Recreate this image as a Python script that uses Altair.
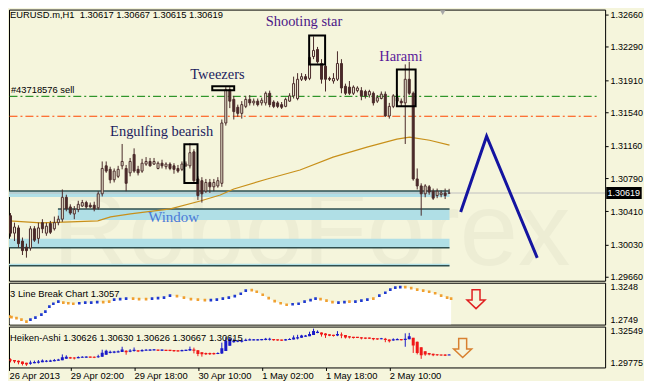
import altair as alt
import pandas as pd

# ---------------- data ----------------
opens = [1.3041,1.3036,1.3016,1.3022,1.3007,1.3000,1.2999,1.3021,1.3010,1.3028,
         1.3016,1.3027,1.3021,1.3028,1.3032,1.3057,1.3046,1.3038,1.3043,1.3047,
         1.3051,1.3048,1.3048,1.3045,1.3061,1.3093,1.3089,1.3077,1.3081,1.3093,
         1.3090,1.3085,1.3106,1.3089,1.3087,1.3095,1.3098,1.3095,1.3090,1.3096,
         1.3092,1.3095,1.3093,1.3090,1.3089,1.3093,1.3093,1.3109,1.3078,1.3076,
         1.3064,1.3074,1.3069,1.3070,1.3073,1.3142,1.3180,1.3169,1.3160,1.3153,
         1.3161,1.3169,1.3165,1.3167,1.3165,1.3165,1.3176,1.3166,1.3165,1.3163,
         1.3161,1.3167,1.3173,1.3170,1.3192,1.3195,1.3193,1.3218,1.3226,1.3210,
         1.3207,1.3193,1.3190,1.3192,1.3210,1.3184,1.3183,1.3176,1.3179,1.3179,
         1.3178,1.3174,1.3176,1.3167,1.3170,1.3175,1.3150,1.3161,1.3167,1.3167,
         1.3165,1.3192,1.3176,1.3078,1.3070,1.3061,1.3069,1.3064,1.3059,1.3060,
         1.3062,1.30617]
highs = [1.3047,1.3039,1.3028,1.3025,1.3011,1.3004,1.3024,1.3024,1.3028,1.3032,
         1.3028,1.3030,1.3035,1.3036,1.3066,1.3060,1.3049,1.3047,1.3053,1.3054,
         1.3053,1.3051,1.3052,1.3064,1.3098,1.3098,1.3092,1.3090,1.3093,1.3118,
         1.3094,1.3102,1.3113,1.3093,1.3101,1.3103,1.3102,1.3102,1.3098,1.3100,
         1.3097,1.3097,1.3096,1.3094,1.3098,1.3098,1.3119,1.3112,1.3081,1.3080,
         1.3078,1.3078,1.3078,1.3080,1.3146,1.3183,1.3183,1.3173,1.3163,1.3167,
         1.3173,1.3174,1.3170,1.3170,1.3171,1.3178,1.3179,1.3168,1.3167,1.3166,
         1.3171,1.3176,1.3195,1.3199,1.3199,1.3198,1.3220,1.3241,1.3229,1.3215,
         1.3210,1.3195,1.3199,1.3224,1.3215,1.3187,1.3190,1.3185,1.3184,1.3183,
         1.3180,1.3180,1.3178,1.3174,1.3178,1.3178,1.3165,1.3175,1.3175,1.3170,
         1.3209,1.3212,1.3178,1.3090,1.3073,1.3072,1.3071,1.3067,1.3067,1.3065,
         1.3067,1.30667]
lows = [1.3013,1.3012,1.3007,1.2999,1.2991,1.2988,1.2996,1.3006,1.3004,1.3016,
        1.3013,1.3015,1.3019,1.3025,1.3029,1.3041,1.3037,1.3032,1.3040,1.3046,
        1.3044,1.3045,1.3041,1.3043,1.3058,1.3085,1.3073,1.3074,1.3079,1.3089,
        1.3064,1.3081,1.3085,1.3082,1.3085,1.3093,1.3092,1.3094,1.3089,1.3090,
        1.3089,1.3088,1.3084,1.3085,1.3087,1.3092,1.3090,1.3073,1.3054,1.3051,
        1.3062,1.3062,1.3064,1.3068,1.3069,1.3139,1.3159,1.3146,1.3149,1.3147,
        1.3159,1.3162,1.3162,1.3161,1.3162,1.3162,1.3160,1.3159,1.3159,1.3158,
        1.3160,1.3166,1.3170,1.3168,1.3190,1.3190,1.3191,1.3215,1.3210,1.3187,
        1.3178,1.3190,1.3187,1.3190,1.3176,1.3174,1.3174,1.3174,1.3177,1.3168,
        1.3170,1.3171,1.3162,1.3165,1.3169,1.3149,1.3147,1.3159,1.3165,1.3161,
        1.3118,1.3174,1.3076,1.3066,1.3036,1.3057,1.3060,1.3054,1.3056,1.3057,
        1.3055,1.30615]
closes = [1.3019,1.3016,1.3023,1.3004,1.2996,1.2996,1.3021,1.3008,1.3022,1.3021,
          1.3024,1.3017,1.3028,1.3032,1.3057,1.3044,1.3039,1.3043,1.3049,1.3051,
          1.3046,1.3046,1.3044,1.3061,1.3090,1.3087,1.3077,1.3087,1.3089,1.3098,
          1.3073,1.3098,1.3087,1.3085,1.3096,1.3098,1.3093,1.3098,1.3096,1.3093,
          1.3095,1.3090,1.3089,1.3087,1.3095,1.3095,1.3108,1.3076,1.3059,1.3061,
          1.3074,1.3069,1.3074,1.3076,1.3142,1.3180,1.3167,1.3155,1.3153,1.3163,
          1.3169,1.3165,1.3167,1.3163,1.3168,1.3176,1.3163,1.3161,1.3161,1.3160,
          1.3169,1.3173,1.3187,1.3192,1.3195,1.3192,1.3217,1.3225,1.3212,1.3192,
          1.3192,1.3192,1.3193,1.3210,1.3182,1.3176,1.3176,1.3183,1.3182,1.3173,
          1.3173,1.3178,1.3165,1.3171,1.3175,1.3150,1.3161,1.3173,1.3171,1.3165,
          1.3192,1.3176,1.3078,1.3070,1.3061,1.3070,1.3063,1.3056,1.3064,1.3062,
          1.3059,1.30619]
bar_index = list(range(len(opens)))

ma_index = [0.7, 8.6, 16.1, 22.9, 26.1, 31.1, 41.1, 48.6, 53.6, 57.0, 65.4, 73.6,
            81.9, 90.4, 97.9, 101.1, 106.1, 111.1]
ma_values = [1.3030, 1.30277, 1.30289, 1.3030, 1.30346, 1.3038, 1.30437, 1.30528,
             1.30596, 1.30665, 1.30779, 1.30882, 1.31030, 1.31144, 1.31235, 1.31258,
             1.31223, 1.31167]

price_ticks = [1.32660, 1.32290, 1.31910, 1.31540, 1.31160, 1.30790, 1.30410, 1.30030, 1.29660]
time_ticks = [0.625, 16, 32, 48, 64, 80, 96]
time_labels = ["26 Apr 2013", "29 Apr 02:00", "29 Apr 18:00", "30 Apr 10:00",
               "1 May 02:00", "1 May 18:00", "2 May 10:00"]

band_start = [0.625, 12.9, 0.625, 0.625]
band_end = [111.1, 111.1, 111.1, 111.1]
band_top = [1.30642, 1.30437, 1.30095, 1.29810]
band_bottom = [1.30574, 1.30311, 1.29992, 1.29787]
band_line = [1.30642, 1.30437, 1.29992, 1.29787]

order_levels = [1.31725, 1.31497]
order_colors = ["#008000", "#FF4500"]
current_price = 1.30619

pattern_names = ["Engulfing bearish", "Tweezers", "Shooting star", "Harami"]
pattern_i = [38.9, 52.9, 74.6, 98.9]
pattern_p = [1.31269, 1.31919, 1.32534, 1.32124]
pattern_colors = ["#1c1c5e", "#1c1c5e", "#4b1587", "#5b1a9a"]
box_i0 = [44.6, 51.6, 75.9, 97.9]
box_i1 = [47.9, 57.1, 79.9, 102.6]
box_top = [1.31178, 1.31839, 1.32420, 1.32033]
box_bottom = [1.30733, 1.31794, 1.32090, 1.31611]

zig_i = [113.9, 120.4, 133.1]
zig_p = [1.30403, 1.31269, 1.29878]

lb_i = [0.8,1.25,2.5,3.75,5,6,7.25,8.75,9.75,10.75,11.75,13,14.25,15.5,16.75,18.25,19.75,
        21.25,22.75,24.25,25.75,27,28.5,30,31.75,33.25,35,36.5,38,39.5,41,42.75,44.5,
        46.25,48,49.75,51.25,52.75,54.25,55.75,57.25,58.75,60,61.5,62.75,64.25,65.75,
        67.25,68.75,70.25,71.75,73.25,74.75,76.25,77.5,78.75,80.25,81.75,83.25,84.75,
        86,87.5,89,90.5,92,93.5,95,96.25,97.5,98.75,100,101.5,103,104.5,106,107.5,109,
        110.5,111.5]
lb_p = [1.2844,1.2838,1.2826,1.2808,1.2785,1.2808,1.2832,1.2867,1.2903,1.2963,
        1.2998,1.3022,1.3010,1.3004,1.2998,1.3004,1.3010,1.3010,1.3016,1.3016,
        1.3022,1.3046,1.3052,1.3058,1.3058,1.3052,1.3052,1.3058,1.3064,1.3070,
        1.3094,1.3088,1.3070,1.3052,1.3046,1.3040,1.3040,1.3046,1.3058,1.3070,
        1.3088,1.3117,1.3153,1.3159,1.3141,1.3105,1.3064,1.3028,1.3004,1.2986,
        1.2992,1.2998,1.3022,1.3040,1.3058,1.3052,1.3034,1.3016,1.3010,1.3016,
        1.3022,1.3022,1.3034,1.3046,1.3058,1.3094,1.3129,1.3165,1.3189,1.3195,
        1.3195,1.3183,1.3165,1.3153,1.3141,1.3123,1.3094,1.3070,1.3058]
lb_dir = list("ddddd" "uuuuuuu" "ddd" "uuuu" "dd" "uuu" "ddd" "uuuu" "ddddd"
              "uuuuuuu" "ddddddd" "uuuuu" "ddd" "uu" "d" "uuu" "d" "uuuuu" "ddddddddd")

header_main = "EURUSD.m,H1\u00a0 1.30617 1.30667 1.30615 1.30619"
header_order = "#43718576 sell"
header_lb = "3 Line Break Chart 1.3057"
header_ha = "Heiken-Ashi 1.30626 1.30630 1.30626 1.30667 1.30615"

# ---------------- styling ----------------
CREAM = "#F5F5DC"
DARK = "#4A2A2A"
BAND = "#B0DFE6"
BAND_LINE = "#2F4F4F"
FONT = "Liberation Sans"
SERIF = "Liberation Serif"
FS = 9.4
AFS = 9.0

X_DOM = [0.625, 150.125]
MAIN_DOM = [1.29616, 1.32717]
LB_DOM = [1.2749, 1.3248]
HA_DOM = [1.29775, 1.32549]
W = 598
VISIBLE = "datum.i >= 1"   # bars whose body lies inside the plotted range

xs = alt.Scale(domain=X_DOM, nice=False, zero=False, padding=0)
ms = alt.Scale(domain=MAIN_DOM, nice=False, zero=False)
ls = alt.Scale(domain=LB_DOM, nice=False, zero=False)
hs = alt.Scale(domain=HA_DOM, nice=False, zero=False)

main_axis = alt.Axis(orient="right", values=price_ticks, format=".5f", tickSize=3,
                     labelPadding=2, domain=False, grid=False, title=None,
                     labelFont=FONT, labelFontSize=AFS, labelColor="black", tickColor="black")
lb_axis = alt.Axis(orient="right", values=[LB_DOM[1], LB_DOM[0]], format=".4f", tickSize=0,
                   labelPadding=5, domain=False, grid=False, title=None, labelFlush=True,
                   labelFont=FONT, labelFontSize=AFS, labelColor="black")
ha_axis = alt.Axis(orient="right", values=[HA_DOM[1], HA_DOM[0]], format=".5f", tickSize=0,
                   labelPadding=5, domain=False, grid=False, title=None, labelFlush=True,
                   labelFont=FONT, labelFontSize=AFS, labelColor="black")
label_expr = "[" + ",".join("'%s'" % t for t in time_labels) + "][round(datum.value / 16)]"
time_axis = alt.Axis(values=time_ticks, labelExpr=label_expr, tickSize=3, labelAlign="left",
                     labelBaseline="top", labelPadding=1, labelFlush=False, domain=False,
                     grid=False, title=None, labelFont=FONT, labelFontSize=FS,
                     labelColor="black", tickColor="black")


def X(f="i"):
    return alt.X(f + ":Q", scale=xs, axis=None)


def XT(f="i"):
    return alt.X(f + ":Q", scale=xs, axis=time_axis)


def YM(f="p"):
    return alt.Y(f + ":Q", scale=ms, axis=main_axis)


def YL(f="p"):
    return alt.Y(f + ":Q", scale=ls, axis=lb_axis)


def YH(f="p"):
    return alt.Y(f + ":Q", scale=hs, axis=ha_axis)


ARROW = "M-0.42,-1L0.42,-1L0.42,0.1L0.95,0.1L0,1L-0.95,0.1L-0.42,0.1Z"

# ---------------- main panel ----------------
cdf = pd.DataFrame(dict(i=bar_index, o=opens, h=highs, l=lows, c=closes))
cdf["fill"] = [CREAM if c >= o else DARK for o, c in zip(opens, closes)]

wm = alt.Chart(pd.DataFrame({"i": [76.5], "p": [1.2980], "t": ["RoboForex"]})).mark_text(
    font=FONT, fontSize=105, color="#8a8a78", opacity=0.07, align="center",
    baseline="alphabetic", clip=True).encode(x=X(), y=YM(), text="t:N")

bdf = pd.DataFrame(dict(x0=band_start, x1=band_end, top=band_top, bot=band_bottom, line=band_line))
bands = alt.Chart(bdf).mark_rect(color=BAND, clip=True).encode(x=X("x0"), x2="x1:Q", y=YM("top"), y2="bot:Q")
band_lines = alt.Chart(bdf).mark_rule(color=BAND_LINE, strokeWidth=1.5, clip=True).encode(
    x=X("x0"), x2="x1:Q", y=YM("line"))

odf = pd.DataFrame(dict(p=order_levels, col=order_colors, x0=[0.75, 0.75], x1=[148.6, 148.6]))
orders = alt.Chart(odf).mark_rule(strokeWidth=1, strokeDash=[8, 3, 2, 3], clip=True).encode(
    x=X("x0"), x2="x1:Q", y=YM(), color=alt.Color("col:N", scale=None))

cur = alt.Chart(pd.DataFrame({"p": [current_price]})).mark_rule(
    color="#C0C0C0", strokeWidth=1, clip=True).encode(y=YM())

ma = alt.Chart(pd.DataFrame(dict(i=ma_index, p=ma_values))).mark_line(
    color="#C8901A", strokeWidth=1.2, clip=True).encode(x=X(), y=YM())

wicks = alt.Chart(cdf).transform_filter(VISIBLE).mark_rule(color=DARK, strokeWidth=1, clip=True).encode(
    x=X(), y=YM("l"), y2="h:Q")
bodies = alt.Chart(cdf).transform_filter(VISIBLE).mark_bar(size=2, stroke=DARK, strokeWidth=1, clip=True).encode(
    x=X(), y=YM("o"), y2="c:Q", fill=alt.Fill("fill:N", scale=None))

boxdf = pd.DataFrame(dict(x0=box_i0, x1=box_i1, top=box_top, bot=box_bottom))
boxes = alt.Chart(boxdf).mark_rect(fillOpacity=0, stroke="black", strokeWidth=2).encode(
    x=X("x0"), x2="x1:Q", y=YM("top"), y2="bot:Q")

pdf = pd.DataFrame(dict(i=pattern_i, p=pattern_p, t=pattern_names, col=pattern_colors))
ptext = alt.Chart(pdf).mark_text(font=SERIF, fontSize=14.5, align="center", baseline="alphabetic").encode(
    x=X(), y=YM(), text="t:N", color=alt.Color("col:N", scale=None))

window = alt.Chart(pd.DataFrame({"i": [41.9], "p": [1.30289], "t": ["Window"]})).mark_text(
    font=SERIF, fontSize=15, align="center", baseline="alphabetic", color="#4a7ad8").encode(
    x=X(), y=YM(), text="t:N")

zig = alt.Chart(pd.DataFrame(dict(i=zig_i, p=zig_p))).mark_line(
    color="#1414A0", strokeWidth=3).encode(x=X(), y=YM())

pbox = alt.Chart(pd.DataFrame({"x0": [150.4], "x1": [159.3], "top": [current_price + 0.00068],
                               "bot": [current_price - 0.00068]})).mark_rect(color="black").encode(
    x=X("x0"), x2="x1:Q", y=YM("top"), y2="bot:Q")
ptxt = alt.Chart(pd.DataFrame({"i": [150.75], "p": [current_price], "t": ["1.30619"]})).mark_text(
    font=FONT, fontSize=AFS, align="left", baseline="middle", color="white").encode(
    x=X(), y=YM(), text="t:N")

hdr = alt.Chart(pd.DataFrame({"i": [0.9, 1.1], "p": [1.3266, 1.31794],
                              "t": [header_main, header_order]})).mark_text(
    font=FONT, fontSize=FS, align="left", baseline="middle", color="black").encode(
    x=X(), y=YM(), text="t:N")

shift = alt.Chart(pd.DataFrame({"i": [109.4], "p": [1.32683]})).mark_point(
    shape="triangle-down", filled=True, color="#A8A8A8", size=30, opacity=1).encode(x=X(), y=YM())

main = alt.layer(wm, bands, band_lines, orders, cur, ma, wicks, bodies, boxes, ptext, window,
                 zig, pbox, ptxt, hdr, shift).properties(width=W, height=272)

# ---------------- 3 line break panel ----------------
lbdf = pd.DataFrame(dict(i=lb_i, p=lb_p, d=lb_dir))
lb_area = alt.Chart(lbdf).mark_area(color="white", interpolate="linear", clip=True).encode(
    x=X(), y=YL(), y2=alt.datum(LB_DOM[0]))
lb_pts = alt.Chart(lbdf).mark_square(size=7, opacity=1, clip=True).encode(
    x=X(), y=YL(), color=alt.Color("d:N", scale=alt.Scale(domain=["u", "d"], range=["#1F3AD0", "#F0A030"]),
                                   legend=None))
lb_hdr = alt.Chart(pd.DataFrame({"i": [0.9], "p": [1.31173], "t": [header_lb]})).mark_text(
    font=FONT, fontSize=FS, align="left", baseline="middle", color="black").encode(x=X(), y=YL(), text="t:N")
lb_arrow = alt.Chart(pd.DataFrame({"i": [117.75], "p": [1.30520]})).mark_point(
    shape=ARROW, size=361, filled=True, fill=CREAM, stroke="#E02020", strokeWidth=1.5, opacity=1).encode(
    x=X(), y=YL())
lb = alt.layer(lb_area, lb_pts, lb_hdr, lb_arrow).properties(width=W, height=42)

# ---------------- Heiken-Ashi panel ----------------
ha_open, ha_close, ha_high, ha_low = [], [], [], []
for k in range(len(opens)):
    hc = (opens[k] + highs[k] + lows[k] + closes[k]) / 4
    ho = (opens[0] + closes[0]) / 2 if k == 0 else (ha_open[-1] + ha_close[-1]) / 2
    ha_open.append(ho)
    ha_close.append(hc)
    ha_high.append(max(highs[k], ho, hc))
    ha_low.append(min(lows[k], ho, hc))
hadf = pd.DataFrame(dict(i=bar_index, ho=ha_open, hc=ha_close, hh=ha_high, hl=ha_low))
hadf["col"] = ["#1A1AC8" if c >= o else "#F01818" for o, c in zip(ha_open, ha_close)]
mid = (hadf["ho"] + hadf["hc"]) / 2
half = ((hadf["hc"] - hadf["ho"]).abs() / 2).clip(lower=0.0004)
hadf["top"] = mid + half
hadf["bot"] = mid - half

ha_w = alt.Chart(hadf).transform_filter(VISIBLE).mark_rule(strokeWidth=1, clip=True).encode(
    x=XT(), y=YH("hl"), y2="hh:Q", color=alt.Color("col:N", scale=None))
ha_b = alt.Chart(hadf).transform_filter(VISIBLE).mark_bar(size=3, clip=True).encode(
    x=XT(), y=YH("bot"), y2="top:Q", color=alt.Color("col:N", scale=None))
ha_hdr = alt.Chart(pd.DataFrame({"i": [0.9], "p": [1.31805], "t": [header_ha]})).mark_text(
    font=FONT, fontSize=FS, align="left", baseline="middle", color="black").encode(x=XT(), y=YH(), text="t:N")
ha_arrow = alt.Chart(pd.DataFrame({"i": [114.4], "p": [1.31094]})).mark_point(
    shape=ARROW, size=361, filled=True, fill=CREAM, stroke="#D88030", strokeWidth=1.5, opacity=1).encode(
    x=XT(), y=YH())
ha = alt.layer(ha_w, ha_b, ha_hdr, ha_arrow).properties(width=W, height=41)

chart = alt.vconcat(main, lb, ha, spacing=2, bounds="flush").properties(
    padding={"left": 0, "top": 0, "right": 0, "bottom": 0},
    background=CREAM,
).configure_view(stroke="black", strokeWidth=1, fill=CREAM)

chart.save("out.html", embed_options={"renderer": "svg", "actions": False})
